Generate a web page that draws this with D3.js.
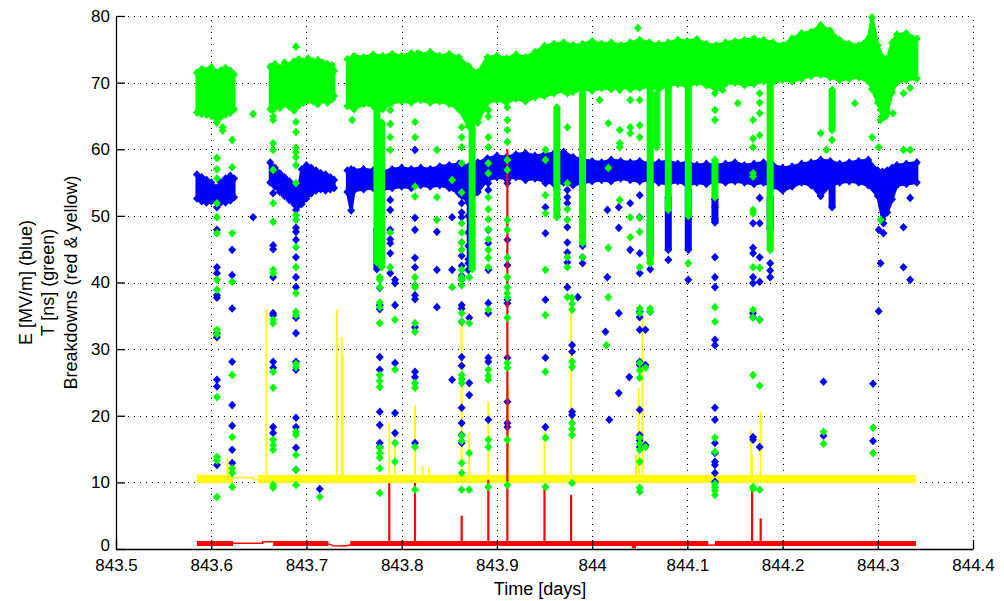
<!DOCTYPE html>
<html>
<head>
<meta charset="utf-8">
<script src="https://cdn.jsdelivr.net/npm/d3@7"></script>
<style>
body { margin: 0; background: #fff; }
text { font-family: "Liberation Sans", Arial, sans-serif; }
</style>
</head>
<body>
<svg id="chart" width="1004" height="601"></svg>
<script>
// axis ticks
var xTicks = [843.5, 843.6, 843.7, 843.8, 843.9, 844.0, 844.1, 844.2, 844.3, 844.4];
var xTickLabels = ["843.5", "843.6", "843.7", "843.8", "843.9", "844", "844.1", "844.2", "844.3", "844.4"];
var yTicks = [0, 10, 20, 30, 40, 50, 60, 70, 80];

// green (T [ns]) dense band, one array per continuous run
var greenBandX = [
  [843.585, 843.590, 843.595, 843.600, 843.605, 843.610, 843.615, 843.620, 843.624],
  [843.662, 843.667, 843.672, 843.677, 843.682, 843.687, 843.692, 843.697, 843.702, 843.707, 843.712, 843.717, 843.722, 843.727, 843.729],
  [843.743, 843.75, 843.76, 843.77, 843.78, 843.79, 843.80, 843.81, 843.82, 843.83, 843.84, 843.85, 843.86, 843.87, 843.88, 843.89,
   843.90, 843.91, 843.92, 843.93, 843.94, 843.95, 843.96, 843.97, 843.98, 843.99, 844.00, 844.01, 844.02, 844.03, 844.04, 844.05,
   844.06, 844.07, 844.08, 844.09, 844.10, 844.11, 844.12, 844.13, 844.14, 844.15, 844.16, 844.17, 844.18, 844.19, 844.20, 844.21,
   844.22, 844.23, 844.24, 844.25, 844.26, 844.27, 844.28, 844.29, 844.294, 844.30, 844.305, 844.31, 844.315, 844.32, 844.33, 844.341]
];
var greenBandLo = [
  [65.5, 65.3, 65.2, 65.0, 64.6, 64.8, 65.2, 65.5, 66.0],
  [66.0, 66.5, 66.2, 66.8, 66.4, 65.8, 66.6, 67.0, 67.4, 67.2, 66.8, 67.4, 67.0, 67.5, 68.0],
  [66.5, 66.0, 66.8, 66.5, 66.0, 67.0, 67.2, 67.0, 67.4, 67.0, 67.2, 66.8, 66.0, 63.5, 64.0, 67.0,
   67.4, 67.0, 67.6, 67.2, 67.8, 68.0, 68.4, 68.8, 68.6, 69.0, 68.8, 69.2, 69.0, 69.4, 69.0, 69.2,
   69.4, 69.0, 69.6, 69.8, 69.4, 70.0, 69.6, 69.0, 69.8, 70.0, 69.6, 69.8, 70.2, 70.0, 70.4, 70.2,
   70.6, 71.0, 71.2, 70.8, 70.4, 70.6, 70.8, 70.2, 69.0, 67.0, 65.0, 65.5, 68.5, 70.0, 70.4, 70.6]
];
var greenBandHi = [
  [71.5, 72.0, 71.8, 72.3, 71.6, 71.8, 72.2, 71.8, 71.2],
  [72.4, 72.8, 72.2, 73.0, 72.6, 73.2, 73.5, 73.2, 73.6, 73.2, 73.4, 73.0, 72.8, 72.6, 71.8],
  [73.5, 74.0, 73.8, 74.2, 74.0, 74.3, 74.0, 74.4, 74.2, 74.6, 74.0, 74.3, 73.8, 72.5, 71.5, 73.8,
   74.0, 73.6, 74.2, 73.8, 74.6, 75.5, 75.8, 76.0, 75.6, 75.8, 76.2, 75.8, 76.0, 75.6, 76.0, 76.4,
   76.0, 75.8, 76.0, 76.4, 76.2, 76.5, 75.8, 75.6, 76.0, 76.2, 76.4, 76.6, 76.4, 76.0, 75.6, 76.6,
   77.4, 77.6, 78.6, 77.8, 76.4, 75.8, 75.6, 76.6, 79.8, 75.6, 73.8, 73.6, 76.0, 77.2, 77.4, 76.6]
];

// blue (E [MV/m]) dense band
var blueBandX = [
  [843.585, 843.590, 843.595, 843.600, 843.605, 843.610, 843.615, 843.620, 843.624],
  [843.662, 843.667, 843.672, 843.677, 843.682, 843.687, 843.692, 843.695, 843.700, 843.705, 843.710, 843.715, 843.720, 843.725, 843.729],
  [843.743, 843.747, 843.75, 843.76, 843.77, 843.78, 843.79, 843.80, 843.81, 843.82, 843.83, 843.84, 843.85, 843.86, 843.87, 843.88,
   843.89, 843.90, 843.91, 843.92, 843.93, 843.94, 843.95, 843.96, 843.97, 843.98, 843.99, 844.00, 844.01, 844.02, 844.03, 844.04,
   844.05, 844.06, 844.07, 844.08, 844.09, 844.10, 844.11, 844.12, 844.13, 844.14, 844.15, 844.16, 844.17, 844.18, 844.19, 844.20,
   844.21, 844.22, 844.23, 844.24, 844.25, 844.26, 844.27, 844.28, 844.29, 844.30, 844.305, 844.31, 844.315, 844.32, 844.33, 844.341]
];
var blueBandLo = [
  [52.6, 52.2, 52.0, 52.2, 52.4, 52.0, 52.0, 52.3, 52.8],
  [55.0, 54.4, 53.6, 53.0, 52.4, 51.8, 51.6, 51.8, 52.6, 53.4, 53.8, 54.0, 53.8, 54.0, 54.2],
  [53.6, 50.8, 53.8, 54.0, 54.2, 54.0, 54.2, 54.4, 54.2, 54.6, 54.4, 54.6, 54.2, 53.4, 52.0, 53.6,
   55.4, 55.8, 55.6, 55.8, 55.4, 55.6, 55.2, 54.8, 55.0, 54.6, 55.0, 55.2, 55.4, 55.2, 55.6, 55.4,
   55.2, 55.4, 55.0, 54.8, 55.2, 54.6, 55.0, 54.8, 55.2, 55.0, 55.2, 55.0, 54.8, 55.0, 54.4, 53.8,
   54.4, 55.0, 54.6, 53.0, 54.6, 55.0, 55.2, 55.0, 54.6, 53.0, 49.5, 50.5, 52.5, 54.6, 54.8, 55.0]
];
var blueBandHi = [
  [56.2, 55.8, 55.4, 55.0, 54.2, 55.0, 55.6, 56.0, 55.6],
  [58.0, 57.2, 56.4, 55.8, 55.2, 54.6, 54.2, 57.0, 57.6, 57.2, 56.8, 56.4, 56.2, 55.8, 55.4],
  [56.8, 57.0, 56.8, 57.0, 56.8, 56.6, 57.0, 57.2, 57.0, 57.2, 57.0, 57.4, 57.6, 57.8, 57.4, 58.0,
   58.6, 59.0, 58.8, 59.2, 59.4, 59.0, 59.2, 59.4, 59.6, 58.8, 58.4, 58.2, 58.0, 58.4, 58.2, 58.0,
   58.2, 57.8, 58.0, 58.2, 57.8, 58.0, 57.6, 57.8, 57.6, 57.8, 58.0, 57.6, 57.8, 58.0, 57.6, 57.2,
   57.4, 57.8, 58.0, 58.4, 58.2, 57.8, 58.0, 58.2, 58.4, 56.8, 56.6, 56.8, 57.2, 57.6, 57.8, 58.0]
];

// dense vertical runs of points (x, top, bottom)
var greenStreakX = [843.774, 843.779, 843.874, 843.963, 843.990, 844.061, 844.068, 844.080, 844.101, 844.129, 844.187, 844.252];
var greenStreakTop = [66.0, 64.0, 67.0, 66.3, 68.4, 69.4, 68.4, 70.0, 70.0, 58.4, 70.0, 68.9];
var greenStreakBot = [43.0, 42.3, 42.0, 49.8, 45.9, 42.9, 60.3, 50.9, 50.0, 52.8, 44.9, 62.9];
var blueStreakX = [843.774, 843.872, 844.061, 844.080, 844.101, 844.129, 844.187, 844.252];
var blueStreakTop = [48.0, 55.0, 55.0, 52.8, 53.9, 52.5, 52.8, 55.9];
var blueStreakBot = [42.0, 43.0, 44.0, 44.9, 44.9, 49.0, 48.0, 51.3];

// scattered green points
var greenPtsX = [
  843.606, 843.606, 843.606, 843.606, 843.606, 843.606, 843.606, 843.606, 843.606, 843.606, 843.606, 843.606, 843.606, 843.606, 843.606,
  843.612, 843.612,
  843.622, 843.622, 843.622, 843.622, 843.622, 843.622, 843.622, 843.622, 843.622,
  843.644,
  843.665, 843.665, 843.665, 843.665, 843.665, 843.665, 843.665, 843.665, 843.665, 843.665, 843.665, 843.665, 843.665, 843.665, 843.665, 843.665, 843.665, 843.665, 843.665,
  843.689, 843.689, 843.689, 843.689, 843.689, 843.689, 843.689, 843.689, 843.689, 843.689, 843.689, 843.689, 843.689, 843.689, 843.689, 843.689, 843.689, 843.689, 843.689, 843.689, 843.689, 843.689, 843.689,
  843.701, 843.711, 843.714, 843.748,
  843.777, 843.777, 843.777, 843.777, 843.777, 843.777, 843.777, 843.777, 843.777, 843.777, 843.777, 843.777, 843.777, 843.777,
  843.788, 843.788, 843.788, 843.788, 843.788, 843.788,
  843.793, 843.793, 843.793, 843.793,
  843.814, 843.814, 843.814, 843.814, 843.814, 843.814, 843.814, 843.814, 843.814, 843.814, 843.814, 843.814, 843.814, 843.817,
  843.837, 843.837, 843.837, 843.853, 843.853,
  843.863, 843.863, 843.863, 843.863, 843.863, 843.863, 843.863, 843.863, 843.863, 843.863, 843.863, 843.863, 843.863, 843.863, 843.863, 843.863, 843.863, 843.863, 843.863, 843.863, 843.863, 843.863, 843.863,
  843.871, 843.871, 843.871, 843.871,
  843.891, 843.891, 843.891, 843.891, 843.891, 843.891, 843.891, 843.891, 843.891, 843.891, 843.891, 843.891, 843.891, 843.891, 843.891, 843.891, 843.891, 843.891, 843.891, 843.891, 843.891,
  843.911, 843.911, 843.911, 843.911, 843.911, 843.911, 843.911, 843.911, 843.911, 843.911, 843.911, 843.911, 843.911, 843.911, 843.911, 843.911, 843.911, 843.911,
  843.951, 843.951, 843.951, 843.951, 843.951, 843.951, 843.951, 843.951, 843.951,
  843.974, 843.974, 843.974, 843.974, 843.974, 843.974, 843.974, 843.974,
  843.979, 843.979, 843.979, 843.979, 843.979, 843.979, 843.979, 843.979, 843.979,
  843.990, 844.008, 844.017, 844.017, 844.017, 844.017, 844.015,
  844.029, 844.029, 844.029, 844.029, 844.029,
  844.040, 844.040, 844.040, 844.040, 844.040, 844.048,
  844.050, 844.050, 844.050, 844.050, 844.050, 844.050, 844.050, 844.050, 844.050, 844.050, 844.050, 844.050, 844.050, 844.050, 844.050, 844.050, 844.050,
  844.056, 844.056, 844.061, 844.061, 844.101,
  844.129, 844.129, 844.129, 844.129, 844.129, 844.129, 844.129, 844.129, 844.129, 844.129, 844.129,
  844.137, 844.153,
  844.169, 844.169, 844.169, 844.169, 844.169, 844.169, 844.169, 844.169, 844.169, 844.169, 844.169, 844.169, 844.169,
  844.176, 844.176, 844.176, 844.176, 844.176, 844.176, 844.176, 844.176,
  844.240, 844.246, 844.243, 844.243, 844.252, 844.276, 844.294, 844.295, 844.295, 844.301,
  844.303, 844.303, 844.303, 844.308, 844.316, 844.327, 844.327, 844.334, 844.334
];
var greenPtsY = [
  64.0, 58.7, 57.0, 55.6, 51.9, 49.8, 47.4, 40.4, 38.9, 32.9, 32.2, 22.8, 13.8, 13.3, 7.8,
  63.3, 62.8,
  61.4, 57.3, 47.4, 40.1, 26.1, 16.8, 12.1, 11.4, 9.3,
  65.3,
  65.9, 64.9, 64.4, 60.9, 59.9, 56.9, 51.9, 49.1, 41.9, 41.4, 34.4, 33.9, 26.6, 24.2, 16.4, 15.6, 14.9, 9.6, 9.2,
  75.4, 66.3, 64.1, 62.6, 60.2, 59.5, 58.8, 57.6, 54.9, 50.1, 49.4, 45.3, 42.3, 38.4, 35.6, 35.1, 27.8, 27.3, 17.6, 17.1, 14.1, 11.9, 9.6,
  67.4, 66.9, 7.8, 64.4,
  40.8, 40.4, 39.3, 37.0, 36.3, 33.9, 26.1, 25.2, 24.3, 15.2, 14.4, 13.7, 12.1, 8.4,
  65.9, 63.8, 61.8, 59.9, 47.5, 42.3,
  34.4, 26.9, 15.9, 13.1,
  64.1, 61.8, 54.4, 52.9, 40.8, 39.6, 39.3, 33.9, 32.6, 24.9, 24.2, 15.3, 8.9, 74.4,
  59.9, 52.8, 49.4, 55.4, 39.3,
  63.3, 61.8, 60.3, 57.9, 53.5, 48.9, 47.5, 46.0, 44.9, 41.9, 40.8, 40.4, 39.6, 35.4, 34.1, 26.1, 25.5, 24.9, 17.0, 16.2, 12.9, 11.4, 8.9,
  40.8, 33.9, 14.4, 8.9,
  65.9, 64.9, 61.8, 60.3, 57.9, 56.4, 52.8, 51.0, 49.5, 48.0, 46.5, 44.9, 43.7, 42.3, 35.9, 26.9, 26.0, 25.4, 16.4, 15.3, 9.3,
  66.3, 64.4, 62.9, 61.1, 58.4, 56.9, 49.4, 47.9, 43.7, 40.8, 39.3, 38.4, 37.7, 34.7, 27.9, 27.2, 16.4, 9.6,
  59.9, 58.4, 53.1, 50.4, 41.9, 35.1, 26.6, 16.7, 9.3,
  68.4, 63.3, 54.9, 51.0, 49.4, 43.8, 42.3, 37.8,
  37.7, 36.8, 35.9, 28.1, 27.3, 18.9, 18.0, 17.1, 9.9,
  43.8, 67.4, 63.9, 57.2, 45.2, 37.8, 30.6,
  68.9, 62.9, 60.9, 60.3, 52.4,
  67.4, 63.3, 62.4, 49.8, 46.8, 78.2,
  67.4, 63.6, 61.8, 49.7, 47.6, 42.3, 36.1, 35.4, 27.9, 26.8, 25.7, 16.7, 15.8, 14.9, 13.1, 9.2, 8.6,
  27.2, 15.3, 36.1, 35.6, 42.9,
  68.4, 65.9, 64.4, 36.3, 34.1, 16.7, 14.6, 9.8, 9.3, 8.8, 8.1,
  68.9, 66.9,
  64.4, 61.6, 60.3, 56.4, 55.9, 50.9, 50.4, 42.3, 35.9, 34.7, 26.1, 9.3, 9.0,
  68.4, 67.0, 65.4, 62.1, 42.2, 34.4, 24.5, 8.9,
  62.4, 59.9, 17.6, 15.8, 61.4, 66.9, 61.8, 18.2, 14.4, 60.3,
  65.9, 64.4, 49.4, 64.9, 65.4, 68.4, 59.9, 69.2, 59.9
];

// scattered blue points
var bluePtsX = [
  843.606, 843.606, 843.606, 843.606, 843.606, 843.606, 843.606, 843.606, 843.606, 843.606, 843.606,
  843.622, 843.622, 843.622, 843.622, 843.622, 843.622, 843.622, 843.622,
  843.644,
  843.665, 843.665, 843.665, 843.665, 843.665, 843.665, 843.665, 843.665, 843.665, 843.665,
  843.689, 843.689, 843.689, 843.689, 843.689, 843.689, 843.689, 843.689, 843.689, 843.689, 843.689, 843.689, 843.689, 843.689, 843.689,
  843.714,
  843.777, 843.777, 843.777, 843.777, 843.777, 843.777, 843.777, 843.777, 843.777,
  843.788, 843.788, 843.788, 843.788, 843.788, 843.788, 843.788,
  843.793, 843.793, 843.793, 843.793, 843.793, 843.793,
  843.814, 843.814, 843.814, 843.814, 843.814, 843.814, 843.814, 843.814, 843.814, 843.814, 843.814,
  843.837, 843.837, 843.837, 843.853, 843.853, 843.853,
  843.863, 843.863, 843.863, 843.863, 843.863, 843.863, 843.863, 843.863, 843.863, 843.863, 843.863, 843.863, 843.863, 843.863, 843.863, 843.863, 843.863, 843.863, 843.863,
  843.870, 843.870, 843.870, 843.870, 843.870, 843.870, 843.870, 843.871, 843.871, 843.871,
  843.891, 843.891, 843.891, 843.891, 843.891, 843.891, 843.891, 843.891, 843.891, 843.891,
  843.911, 843.911, 843.911, 843.911, 843.911, 843.911, 843.911, 843.911, 843.911, 843.911,
  843.951, 843.951, 843.951, 843.951, 843.951, 843.951,
  843.963, 843.963, 843.963,
  843.974, 843.974, 843.974, 843.974, 843.974, 843.974, 843.974, 843.974,
  843.979, 843.979, 843.979, 843.979, 843.985,
  843.990, 843.990, 843.990, 843.990, 843.990, 843.990, 843.990,
  844.014, 844.016, 844.016, 844.018, 844.028, 844.028, 844.028, 844.028, 844.039, 844.040, 844.040,
  844.050, 844.050, 844.050, 844.050, 844.050, 844.050, 844.050, 844.050, 844.050, 844.050, 844.050, 844.050, 844.050,
  844.056, 844.056, 844.056, 844.061, 844.061, 844.080, 844.101,
  844.129, 844.129, 844.129, 844.129, 844.129, 844.129, 844.129, 844.129, 844.129, 844.129, 844.129, 844.129, 844.129, 844.129, 844.129, 844.129,
  844.169, 844.169, 844.169, 844.169, 844.169, 844.169, 844.169, 844.169, 844.169,
  844.176, 844.176, 844.176, 844.176, 844.176, 844.176,
  844.187, 844.187, 844.187, 844.187,
  844.243, 844.243, 844.295, 844.295, 844.301, 844.301, 844.303, 844.306, 844.306, 844.327, 844.327, 844.334, 844.334
];
var bluePtsY = [
  51.3, 47.9, 42.3, 41.4, 38.1, 37.7, 32.4, 31.8, 25.4, 24.4, 12.6,
  44.9, 41.1, 36.1, 28.1, 21.6, 18.5, 14.9, 12.9,
  49.8,
  53.4, 45.6, 45.0, 40.8, 35.4, 35.1, 28.1, 27.2, 18.3, 17.4,
  50.9, 48.2, 47.6, 46.4, 43.8, 40.8, 39.3, 34.7, 32.4, 28.1, 26.9, 19.7, 18.3, 15.2, 11.9,
  9.0,
  39.2, 36.6, 36.0, 28.8, 26.9, 20.6, 18.6, 15.9, 15.3,
  52.4, 50.9, 47.9, 46.5, 45.9, 44.4, 41.4,
  40.4, 39.9, 36.6, 27.9, 20.4, 17.4,
  59.9, 49.7, 47.9, 43.7, 42.3, 38.1, 37.5, 33.3, 26.6, 25.8, 15.9,
  47.6, 41.9, 36.3, 49.8, 41.9, 25.4,
  53.9, 53.0, 51.9, 50.5, 49.8, 46.0, 44.0, 42.5, 41.0, 40.4, 36.6, 36.1, 34.1, 28.8, 27.5, 21.2, 18.9, 17.1, 15.9,
  52.5, 50.0, 47.5, 45.5, 43.5, 42.9, 41.9, 34.7, 24.9, 23.1,
  54.9, 53.9, 47.9, 45.9, 41.9, 36.9, 35.4, 28.7, 28.1, 19.4,
  55.4, 54.9, 46.4, 42.6, 37.4, 36.9, 28.7, 22.1, 18.9, 18.3,
  54.9, 51.3, 47.4, 37.4, 28.7, 18.3,
  54.0, 52.5, 51.0,
  53.9, 52.8, 51.9, 48.3, 46.0, 44.5, 43.0, 39.3,
  30.6, 29.6, 20.6, 20.1, 37.8,
  53.9, 50.9, 49.5, 47.0, 45.5, 43.8, 42.9,
  32.6, 50.9, 40.8, 19.4, 51.3, 48.2, 35.4, 23.4, 25.8, 51.9, 44.9,
  53.1, 49.8, 44.4, 41.4, 35.6, 34.8, 32.9, 28.1, 27.6, 20.9, 17.1, 16.3, 15.3,
  32.9, 27.6, 15.6, 35.6, 42.0, 43.4, 40.4,
  52.5, 51.3, 49.4, 43.8, 40.8, 39.3, 31.4, 30.6, 21.2, 19.4, 15.9, 14.4, 13.1, 12.6, 11.4, 10.1,
  48.9, 45.2, 44.4, 40.8, 39.9, 35.4, 34.8, 16.8, 16.4,
  52.7, 48.9, 43.8, 40.1, 34.4, 15.3,
  48.3, 42.9, 41.8, 40.8,
  25.1, 17.0, 24.8, 16.2, 35.7, 47.9, 42.9, 48.9, 47.4, 48.3, 42.3, 52.7, 40.4
];

// yellow breakdown trace
var yellowBandStart = [843.585, 843.649];
var yellowBandEnd = [843.623, 844.340];
var yellowBandLo = [9.9, 9.9];
var yellowBandHi = [11.1, 11.1];
var yellowLinkX = [843.623, 843.644, 843.644, 843.649];
var yellowLinkY = [10.7, 10.7, 10.4, 10.4];
var yellowSpikeX = [843.617, 843.658, 843.732, 843.737, 843.738, 843.787, 843.793, 843.814, 843.822, 843.829, 843.863, 843.871,
                    843.891, 843.912, 843.950, 843.978, 844.046, 844.049, 844.053, 844.167, 844.168, 844.177];
var yellowSpikeTop = [13.7, 35.9, 36.0, 31.8, 29.1, 18.9, 15.9, 21.6, 12.3, 12.3, 33.9, 17.6,
                      22.1, 24.3, 17.6, 35.6, 14.1, 24.2, 34.8, 17.9, 14.1, 20.6];

// red breakdown trace
var redBandStart = [843.585, 843.665, 843.746, 844.129];
var redBandEnd = [843.623, 843.723, 844.122, 844.340];
var redBandLo = [0.45, 0.45, 0.45, 0.45];
var redBandHi = [1.2, 1.2, 1.2, 1.2];
var redLinkX = [[843.623, 843.654, 843.654, 843.665], [843.723, 843.728, 843.740, 843.746], [844.122, 844.129]];
var redLinkY = [[0.85, 0.85, 1.1, 1.1], [0.8, 0.5, 0.45, 0.6], [0.6, 0.6]];
var redSpikeX = [843.787, 843.814, 843.863, 843.891, 843.911, 843.950, 843.978, 844.168, 844.177];
var redSpikeTop = [9.9, 9.9, 5.0, 10.4, 60.0, 9.3, 8.1, 9.3, 4.6];
var redDipX = [844.044];
var redDipY = [0.1];

var GREEN = "#00ff00", BLUE = "#0000ff", YELLOW = "#ffff00", RED = "#ff0000";

var x = d3.scaleLinear().domain([843.5, 844.4]).range([116, 973]);
var y = d3.scaleLinear().domain([0, 80]).range([549, 16]);

var svg = d3.select("#chart");
svg.append("rect").attr("width", 1004).attr("height", 601).attr("fill", "#fff");

// dotted grid
var grid = svg.append("g")
    .attr("stroke", "#000")
    .attr("stroke-width", 1)
    .attr("stroke-dasharray", "1,5");
grid.selectAll(null).data(xTicks.slice(1)).enter().append("line")
    .attr("x1", d => Math.round(x(d)) + 0.5).attr("x2", d => Math.round(x(d)) + 0.5)
    .attr("y1", y(0)).attr("y2", y(80));
grid.selectAll(null).data(yTicks.slice(1)).enter().append("line")
    .attr("y1", d => Math.round(y(d)) + 0.5).attr("y2", d => Math.round(y(d)) + 0.5)
    .attr("x1", x(843.5)).attr("x2", x(844.4));

var plot = svg.append("g");

function dots(g, xs, ys, color) {
    g.selectAll(null).data(xs).enter().append("path")
        .attr("d", "M0,-4.3L4,0L0,4.3L-4,0Z")
        .attr("transform", (d, i) => "translate(" + x(d) + "," + y(ys[i]) + ")")
        .attr("fill", color);
}

function band(g, xs, lo, hi, color) {
    var pts = xs.map((d, i) => ({ x: d, lo: lo[i], hi: hi[i] }));
    g.append("path").datum(pts)
        .attr("d", d3.area().x(d => x(d.x)).y0(d => y(d.lo)).y1(d => y(d.hi)))
        .attr("fill", color)
        .attr("stroke", color)
        .attr("stroke-width", 3)
        .attr("stroke-linejoin", "round");
    dots(g, xs, lo, color);
    dots(g, xs, hi, color);
}

function streaks(g, xs, tops, bots, color) {
    g.selectAll(null).data(xs).enter().append("rect")
        .attr("x", d => x(d) - 3.5)
        .attr("width", 7)
        .attr("y", (d, i) => y(tops[i]))
        .attr("height", (d, i) => y(bots[i]) - y(tops[i]))
        .attr("fill", color);
    dots(g, xs, tops, color);
    dots(g, xs, bots, color);
}

function flatBands(g, starts, ends, lo, hi, color) {
    g.selectAll(null).data(starts).enter().append("rect")
        .attr("x", d => x(d))
        .attr("width", (d, i) => x(ends[i]) - x(d))
        .attr("y", (d, i) => y(hi[i]))
        .attr("height", (d, i) => y(lo[i]) - y(hi[i]))
        .attr("fill", color);
}

function spikes(g, xs, tops, base, color, w) {
    g.selectAll(null).data(xs).enter().append("line")
        .attr("x1", d => x(d)).attr("x2", d => x(d))
        .attr("y1", (d, i) => y(tops[i]))
        .attr("y2", y(base))
        .attr("stroke", color)
        .attr("stroke-width", w);
}

var line = d3.line().x(d => x(d[0])).y(d => y(d[1]));

// yellow
var gy = plot.append("g");
flatBands(gy, yellowBandStart, yellowBandEnd, yellowBandLo, yellowBandHi, YELLOW);
gy.append("path").datum(yellowLinkX.map((d, i) => [d, yellowLinkY[i]]))
    .attr("d", line).attr("fill", "none").attr("stroke", YELLOW).attr("stroke-width", 1.5);
spikes(gy, yellowSpikeX, yellowSpikeTop, 10.5, YELLOW, 2);

// blue
var gb = plot.append("g");
blueBandX.forEach((xs, k) => band(gb, xs, blueBandLo[k], blueBandHi[k], BLUE));
streaks(gb, blueStreakX, blueStreakTop, blueStreakBot, BLUE);
dots(gb, bluePtsX, bluePtsY, BLUE);

// red
var gr = plot.append("g");
flatBands(gr, redBandStart, redBandEnd, redBandLo, redBandHi, RED);
redLinkX.forEach((xs, k) => {
    gr.append("path").datum(xs.map((d, i) => [d, redLinkY[k][i]]))
        .attr("d", line).attr("fill", "none").attr("stroke", RED).attr("stroke-width", 1.5);
});
spikes(gr, redSpikeX, redSpikeTop, 0.8, RED, 2.2);
spikes(gr, redDipX, redDipY, 0.8, RED, 4);

// green
var gg = plot.append("g");
greenBandX.forEach((xs, k) => band(gg, xs, greenBandLo[k], greenBandHi[k], GREEN));
streaks(gg, greenStreakX, greenStreakTop, greenStreakBot, GREEN);
dots(gg, greenPtsX, greenPtsY, GREEN);

// axes
var xAxis = svg.append("g")
    .attr("transform", "translate(0," + y(0) + ")")
    .call(d3.axisBottom(x).tickValues(xTicks).tickFormat((d, i) => xTickLabels[i])
        .tickSizeInner(-9).tickSizeOuter(0).tickPadding(10));
var yAxis = svg.append("g")
    .attr("transform", "translate(" + x(843.5) + ",0)")
    .call(d3.axisLeft(y).tickValues(yTicks).tickFormat(d3.format("d"))
        .tickSizeInner(-9).tickSizeOuter(0).tickPadding(6));
[xAxis, yAxis].forEach(a => {
    a.attr("font-family", "Liberation Sans, Arial, sans-serif").attr("font-size", 17);
    a.selectAll("text").attr("fill", "#000");
    a.selectAll("line, path").attr("stroke", "#000").attr("stroke-width", 1.3);
});
// lift the "0" label a little so it clears the first x label
yAxis.selectAll(".tick").filter(d => d === 0).select("text").attr("dy", "0.1em");

// axis titles
var yTitle = ["E [MV/m] (blue)", "T [ns] (green)", "Breakdowns (red & yellow)"];
var yTitleX = [26, 48, 71];
svg.selectAll(null).data(yTitle).enter().append("text")
    .attr("transform", (d, i) => "translate(" + yTitleX[i] + "," + ((y(0) + y(80)) / 2) + ") rotate(-90)")
    .attr("text-anchor", "middle")
    .attr("dominant-baseline", "central")
    .attr("font-size", 18)
    .attr("fill", "#000")
    .text(d => d);
svg.append("text")
    .attr("x", 540).attr("y", 589)
    .attr("text-anchor", "middle")
    .attr("dominant-baseline", "central")
    .attr("font-size", 18)
    .attr("fill", "#000")
    .text("Time [days]");
</script>
</body>
</html>
